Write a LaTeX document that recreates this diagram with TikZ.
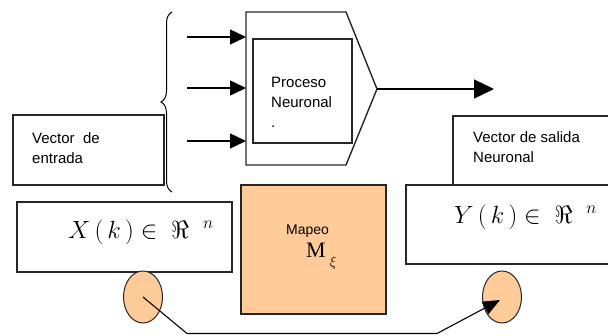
\documentclass[tikz,border=0pt]{standalone}
\usepackage[no-math]{fontspec}
\setmainfont{Liberation Sans}
\newfontfamily\mapfont{Liberation Serif}
\usetikzlibrary{arrows.meta,shapes.geometric,decorations.pathreplacing}
\definecolor{peach}{HTML}{FFCC99}
\definecolor{edge}{HTML}{262626}
\begin{document}
\begin{tikzpicture}[x=1pt,y=-1pt,
  box/.style={draw=edge,line width=1.4pt,inner sep=0pt,outer sep=0pt,anchor=north west},
  bubble/.style={draw=edge,fill=peach,line width=1pt,ellipse,inner sep=0pt,minimum width=39pt,minimum height=52pt},
  lbl/.style={inner sep=0pt,anchor=base west,align=left,font=\fontsize{15}{20}\selectfont},
  mathlbl/.style={inner sep=0pt,anchor=base west,font=\fontsize{24}{28}\selectfont},
  inarrow/.style={line width=1.4pt,-{Triangle[length=16pt,width=15pt]}},
  link/.style={line width=1.1pt}]
\useasboundingbox (0,0) rectangle (608,335);
\clip (0,0) rectangle (608,335);

% neural process block: pentagon with inner box
\coordinate (p1) at (246,12);
\coordinate (p2) at (346,12);
\coordinate (ptip) at (377,89);
\coordinate (p3) at (346,165);
\coordinate (p4) at (246,165);
\draw[line width=1.4pt,draw=edge,line join=miter] (p1) -- (p2) -- (ptip) -- (p3) -- (p4) -- cycle;
\node[box,minimum width=99pt,minimum height=104pt] (proc) at (253,39) {};
% multi-line labels are placed by the baseline of their last line
\node[lbl] (proct) at (271,127) {Proceso\\Neuronal\\.};

% inputs grouped by a brace
\draw[line width=1pt,decorate,decoration={brace,amplitude=11pt,aspect=0.5}] (172,192) -- (172,12);
\coordinate (a1s) at (187,37);  \coordinate (a1e) at (246,37);
\coordinate (a2s) at (187,88);  \coordinate (a2e) at (246,88);
\coordinate (a3s) at (187,141); \coordinate (a3e) at (246,141);
\draw[inarrow] (a1s) -- (a1e);
\draw[inarrow] (a2s) -- (a2e);
\draw[inarrow] (a3s) -- (a3e);

% output arrow
\coordinate (outend) at (494,89);
\draw[line width=1.4pt,-{Triangle[length=20pt,width=19pt]}] (ptip) -- (outend);

% input vector
\node[box,minimum width=151pt,minimum height=70pt] (vin) at (13,115) {};
\node[lbl] (vint) at (32,163) {Vector\ \ de\\entrada};
\node[box,minimum width=215pt,minimum height=70pt] (xbox) at (17,202) {};
\node[mathlbl] (xt) at (68,238) {$X\,(\,k\,)\in\;\Re\;\;{}^{n}$};

% mapping
\node[box,fill=peach,minimum width=145pt,minimum height=129pt] (map) at (241,185) {};
\node[lbl,font=\fontsize{14}{18}\selectfont] (mapt) at (286,234) {Mapeo};
\node[inner sep=0pt,anchor=base west] (mt) at (306,257)
  {\mapfont\fontsize{22}{24}\selectfont M\hspace{4pt}\raisebox{-9pt}{\fontsize{14}{14}\selectfont$\xi$}};

% output vector
\node[box,minimum width=170pt,minimum height=69pt] (vout) at (453,116) {};
\node[lbl] (voutt) at (473,162) {Vector de salida\\Neuronal};
\node[box,minimum width=214pt,minimum height=79pt] (ybox) at (406,185) {};
\node[mathlbl] (yt) at (454,223) {$Y\,(\,k\,)\in\;\Re\;\;{}^{n}$};

% mapping link between the two vectors
\node[bubble] (lc) at (143,297) {};
\node[bubble] (rc) at (502,297) {};
\coordinate (b1) at (187,333.5);
\coordinate (b2) at (437,333.5);
\draw[link,-{Triangle[length=17pt,width=14pt]}] (lc.center) -- (b1) -- (b2) -- ([shift={(-2,3)}]rc.center);
\end{tikzpicture}
\end{document}
